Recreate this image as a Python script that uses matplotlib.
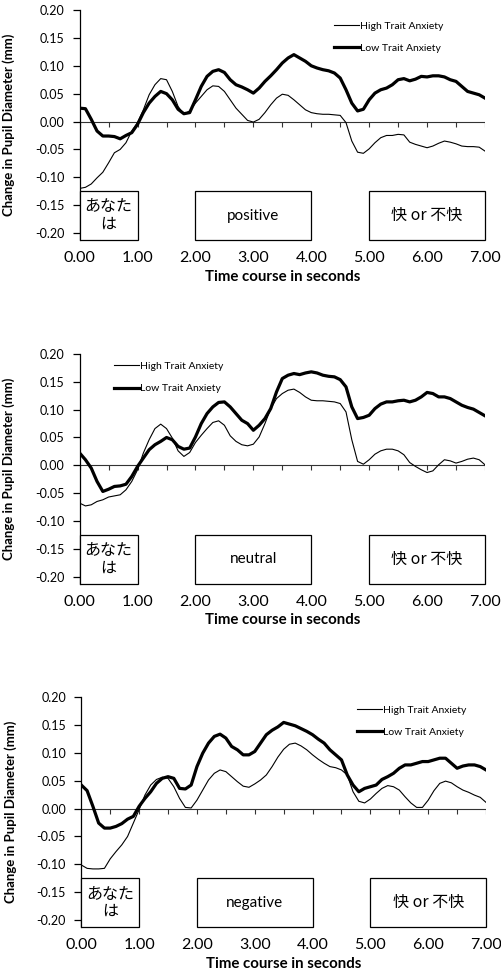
"""
Pupil diameter change over time, high vs low trait anxiety,
for positive / neutral / negative words (three stacked panels).
"""

import numpy as np
import matplotlib
matplotlib.use("Agg")
import matplotlib.pyplot as plt
from matplotlib.patches import Rectangle

plt.rcParams["font.family"] = ["Lato", "DejaVu Sans"]

JP = ["Noto Sans CJK JP", "DejaVu Sans"]

# time axis, 0.1 s steps
time_s = np.round(np.arange(71) * 0.1, 1)

positive_high = [
    -0.120, -0.118, -0.112, -0.101, -0.091, -0.074, -0.056, -0.050, -0.038, -0.017,
    -0.002, 0.021, 0.048, 0.066, 0.077, 0.075, 0.054, 0.027, 0.013, 0.019,
    0.033, 0.045, 0.057, 0.064, 0.063, 0.054, 0.039, 0.024, 0.013, 0.002,
    -0.001, 0.004, 0.016, 0.030, 0.042, 0.049, 0.047, 0.039, 0.030, 0.021,
    0.016, 0.014, 0.013, 0.013, 0.012, 0.011, -0.002, -0.035, -0.055, -0.057,
    -0.049, -0.038, -0.029, -0.025, -0.025, -0.023, -0.024, -0.037, -0.041, -0.044,
    -0.047, -0.044, -0.039, -0.035, -0.037, -0.040, -0.044, -0.045, -0.045, -0.046,
    -0.053,
]
positive_low = [
    0.024, 0.023, 0.004, -0.017, -0.026, -0.026, -0.027, -0.031, -0.025, -0.020,
    -0.005, 0.016, 0.033, 0.045, 0.054, 0.050, 0.039, 0.022, 0.014, 0.016,
    0.039, 0.063, 0.081, 0.090, 0.093, 0.088, 0.075, 0.066, 0.062, 0.057,
    0.051, 0.060, 0.072, 0.082, 0.093, 0.105, 0.114, 0.120, 0.114, 0.108,
    0.100, 0.096, 0.093, 0.091, 0.087, 0.078, 0.057, 0.033, 0.019, 0.022,
    0.039, 0.051, 0.057, 0.060, 0.066, 0.075, 0.077, 0.073, 0.076, 0.081,
    0.080, 0.082, 0.082, 0.080, 0.075, 0.072, 0.063, 0.054, 0.051, 0.048,
    0.042,
]

neutral_high = [
    -0.068, -0.073, -0.071, -0.065, -0.062, -0.057, -0.055, -0.053, -0.044, -0.029,
    -0.008, 0.022, 0.046, 0.066, 0.074, 0.066, 0.049, 0.026, 0.016, 0.023,
    0.041, 0.054, 0.066, 0.077, 0.080, 0.072, 0.053, 0.043, 0.037, 0.035,
    0.038, 0.051, 0.075, 0.102, 0.120, 0.129, 0.135, 0.137, 0.131, 0.123,
    0.117, 0.116, 0.116, 0.115, 0.114, 0.111, 0.096, 0.046, 0.007, 0.002,
    0.010, 0.020, 0.026, 0.029, 0.029, 0.026, 0.019, 0.005, -0.002, -0.008,
    -0.013, -0.010, 0.001, 0.010, 0.008, 0.004, 0.007, 0.011, 0.013, 0.010,
    0.001,
]
neutral_low = [
    0.022, 0.010, -0.005, -0.029, -0.047, -0.043, -0.038, -0.037, -0.034, -0.020,
    -0.002, 0.013, 0.028, 0.037, 0.043, 0.050, 0.046, 0.034, 0.029, 0.031,
    0.051, 0.075, 0.093, 0.105, 0.113, 0.114, 0.105, 0.093, 0.081, 0.075,
    0.063, 0.072, 0.084, 0.102, 0.132, 0.156, 0.162, 0.165, 0.163, 0.166,
    0.168, 0.166, 0.162, 0.160, 0.159, 0.154, 0.141, 0.105, 0.084, 0.086,
    0.090, 0.102, 0.110, 0.114, 0.114, 0.116, 0.117, 0.114, 0.117, 0.123,
    0.131, 0.129, 0.123, 0.123, 0.120, 0.114, 0.108, 0.104, 0.101, 0.095,
    0.089,
]

negative_high = [
    -0.101, -0.107, -0.108, -0.108, -0.107, -0.090, -0.077, -0.065, -0.050, -0.026,
    -0.002, 0.024, 0.042, 0.052, 0.056, 0.054, 0.039, 0.018, 0.002, 0.001,
    0.015, 0.033, 0.051, 0.063, 0.069, 0.066, 0.057, 0.048, 0.040, 0.038,
    0.044, 0.051, 0.060, 0.075, 0.092, 0.106, 0.115, 0.117, 0.112, 0.105,
    0.096, 0.088, 0.081, 0.075, 0.073, 0.069, 0.060, 0.030, 0.013, 0.010,
    0.017, 0.027, 0.036, 0.041, 0.039, 0.033, 0.021, 0.010, 0.002, 0.002,
    0.015, 0.032, 0.045, 0.049, 0.046, 0.039, 0.033, 0.029, 0.024, 0.020,
    0.011,
]
negative_low = [
    0.042, 0.032, 0.004, -0.026, -0.035, -0.035, -0.032, -0.027, -0.019, -0.014,
    0.004, 0.018, 0.030, 0.045, 0.054, 0.057, 0.054, 0.036, 0.035, 0.042,
    0.075, 0.099, 0.117, 0.129, 0.133, 0.126, 0.111, 0.105, 0.096, 0.096,
    0.102, 0.117, 0.132, 0.140, 0.146, 0.154, 0.151, 0.148, 0.143, 0.138,
    0.132, 0.124, 0.117, 0.105, 0.096, 0.087, 0.060, 0.042, 0.030, 0.036,
    0.039, 0.042, 0.052, 0.057, 0.063, 0.072, 0.078, 0.078, 0.081, 0.084,
    0.084, 0.087, 0.090, 0.090, 0.081, 0.072, 0.076, 0.078, 0.078, 0.075,
    0.069,
]

conditions = ["positive", "neutral", "negative"]
high_series = [positive_high, neutral_high, negative_high]
low_series = [positive_low, neutral_low, negative_low]

series_labels = ["High Trait Anxiety", "Low Trait Anxiety"]
y_ticks = [-0.20, -0.15, -0.10, -0.05, 0.00, 0.05, 0.10, 0.15, 0.20]
x_ticks = [0, 1, 2, 3, 4, 5, 6, 7]

# layout (figure fractions) and legend anchors per panel
AX_RECTS = [
    (0.159, 0.7536, 0.809, 0.2361),
    (0.159, 0.4009, 0.809, 0.2356),
    (0.1623, 0.0479, 0.8078, 0.2368),
]
LEGEND_ANCHORS = [(0.627, 0.950), (0.084, 0.967), (0.680, 0.962)]

Y_MIN, Y_MAX = -0.2125, 0.20
BOX_TOP = -0.125


def stim_box(ax, x0, x1, text, family, size):
    ax.add_patch(Rectangle((x0, Y_MIN), x1 - x0, BOX_TOP - Y_MIN,
                           facecolor="white", edgecolor="black", linewidth=0.9,
                           zorder=5, clip_on=False))
    ax.text((x0 + x1) / 2, (Y_MIN + BOX_TOP) / 2, text, ha="center", va="center",
            family=family, fontsize=size, zorder=6, linespacing=1.05)


fig = plt.figure(figsize=(5.01, 9.74), dpi=100)

for i, cond in enumerate(conditions):
    ax = fig.add_axes(AX_RECTS[i])
    ax.set_xlim(0, 7)
    ax.set_ylim(Y_MIN, Y_MAX)

    ax.axhline(0, color="#333333", linewidth=0.8, zorder=1)
    ax.vlines(np.arange(0, 7.01, 0.5), -0.009, 0, color="#333333", linewidth=0.8)

    ax.plot(time_s, high_series[i], color="black", linewidth=0.8,
            label=series_labels[0], zorder=3)
    ax.plot(time_s, low_series[i], color="black", linewidth=2.3,
            label=series_labels[1], zorder=3)

    stim_box(ax, 0.0, 1.0, "あなた\nは", JP, 11.5)
    stim_box(ax, 2.0, 4.0, cond, ["Lato"], 11)
    stim_box(ax, 5.0, 7.0, "快 or 不快", JP, 11.5)

    for side in ("top", "right", "bottom"):
        ax.spines[side].set_visible(False)
    ax.spines["left"].set_linewidth(0.9)

    ax.set_yticks(y_ticks)
    ax.set_yticklabels([f"{v:.2f}" for v in y_ticks])
    ax.set_xticks(x_ticks)
    ax.set_xticklabels([f"{v:.2f}" for v in x_ticks])
    ax.tick_params(axis="y", direction="out", length=5, width=0.9, pad=6,
                   labelsize=9)
    ax.tick_params(axis="x", length=0, pad=8, labelsize=11.5)

    ax.set_ylabel("Change in Pupil Diameter (mm)", fontsize=9.5, fontweight="bold")
    ax.yaxis.set_label_coords(-0.16, 0.5)
    ax.set_xlabel("Time course in seconds", fontsize=10.8, fontweight="bold")
    ax.xaxis.set_label_coords(0.5, -0.13)

    ax.legend(loc="upper left", bbox_to_anchor=LEGEND_ANCHORS[i], frameon=False,
              fontsize=7.5, handlelength=2.4, handletextpad=0.1,
              labelspacing=1.25, borderpad=0, borderaxespad=0)

fig.savefig("out.png", dpi=100)
